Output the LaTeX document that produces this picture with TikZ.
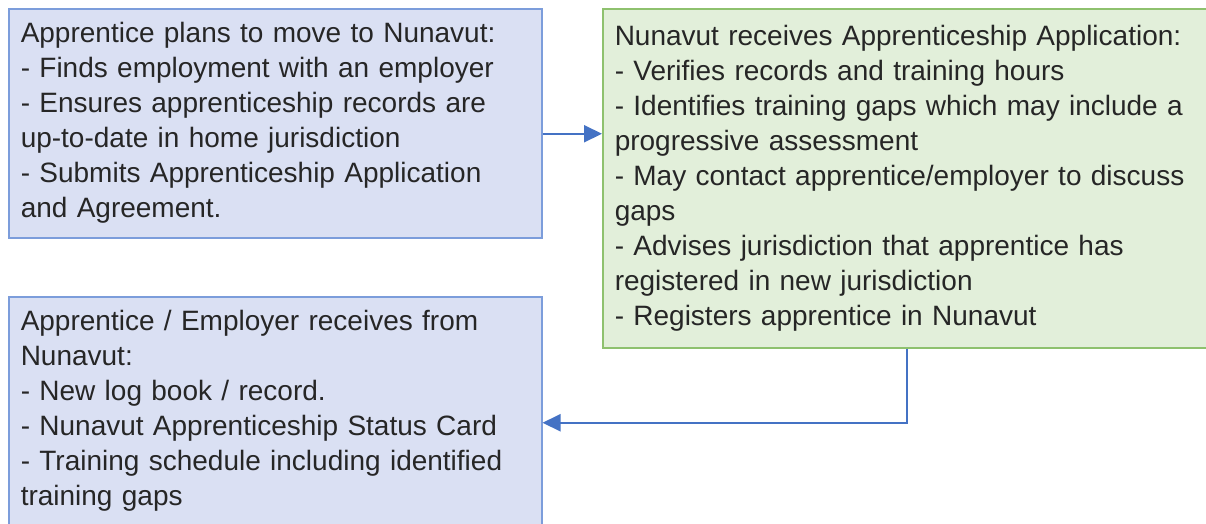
\documentclass[tikz,border=0pt]{standalone}
\usepackage{fontspec}
\setmainfont{Liberation Sans}
\usepackage{xcolor}
\usetikzlibrary{arrows.meta,calc}
\definecolor{boxblue}{RGB}{218,224,243}
\definecolor{edgeblue}{RGB}{124,157,219}
\definecolor{boxgreen}{RGB}{226,239,218}
\definecolor{edgegreen}{RGB}{142,193,110}
\definecolor{flowblue}{RGB}{68,114,196}
\tikzset{
  stepnode/.style={
    anchor=north west,
    draw,
    line width=1.5pt,
    inner xsep=12pt,
    inner ysep=0pt,
    align=left,
    text=black!85,
    font=\fontsize{28pt}{35pt}\selectfont
  },
  bluebox/.style={
    stepnode,
    draw=edgeblue,
    fill=boxblue
  },
  greenbox/.style={
    stepnode,
    draw=edgegreen,
    fill=boxgreen
  },
  flow/.style={
    draw=flowblue,
    line width=2pt,
    -{Triangle[length=18pt,width=17pt]}
  }
}
\begin{document}
\begin{tikzpicture}
    \useasboundingbox (0,0) rectangle (1206pt,-523pt);
    \node[bluebox, text width=509pt, minimum height=229pt] (apprentice) at (8pt,-8pt)
        {Apprentice plans to move to Nunavut:\\
         - Finds employment with an employer\\
         - Ensures apprenticeship records are\\
         up-to-date in home jurisdiction\\
         - Submits Apprenticeship Application\\
         and Agreement.};
    \node[greenbox, text width=584pt, minimum height=339pt] (nunavut) at (602pt,-8pt)
        {Nunavut receives Apprenticeship Application:\\
         - Verifies records and training hours\\
         - Identifies training gaps which may include a\\
         progressive assessment\\
         - May contact apprentice/employer to discuss\\
         gaps\\
         - Advises jurisdiction that apprentice has\\
         registered in new jurisdiction\\
         - Registers apprentice in Nunavut};
    \node[bluebox, text width=509pt, minimum height=229pt] (employer) at (8pt,-296pt)
        {Apprentice / Employer receives from\\
         Nunavut:\\
         - New log book / record.\\
         - Nunavut Apprenticeship Status Card\\
         - Training schedule including identified\\
         training gaps};
    \draw[flow] ([yshift=-10.5pt]apprentice.east) -- ([yshift=-10.5pt]apprentice.east -| nunavut.west);
    \draw[flow] (nunavut.south) |- ([yshift=-11.5pt]employer.east);
\end{tikzpicture}
\end{document}
